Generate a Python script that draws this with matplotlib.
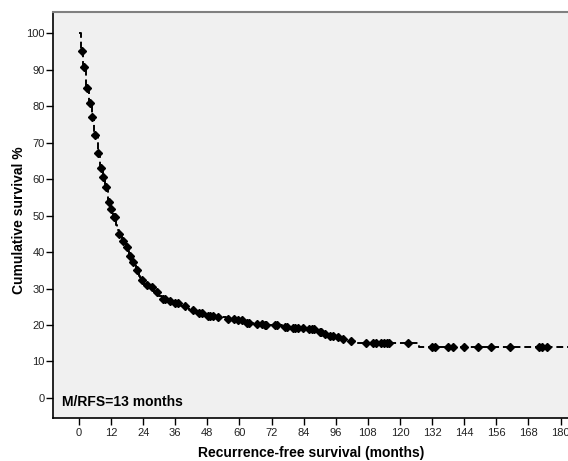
import matplotlib.pyplot as plt
import numpy as np

plt.rcParams['font.family'] = ['Liberation Sans', 'DejaVu Sans']

# Kaplan-Meier steps: drop times (months) and survival (%) after each drop
event_t = [0.8, 1.7, 2.7, 3.8, 4.8, 5.8, 7.0, 7.9, 8.9, 9.9, 10.9, 11.8, 12.9,
           13.8, 14.3, 14.9, 16.0, 17.5, 18.8, 20.0, 21.5, 22.3, 23.0, 24.5,
           26.0, 28.0, 29.5, 31.0, 33.0, 35.0, 38.0, 41.0, 44.0, 47.0, 51.0,
           55.0, 59.0, 62.0, 65.0, 69.0, 76.0, 79.0, 86.0, 89.0, 91.0, 93.0,
           96.0, 98.0, 100.0, 104.0, 127.0]
event_s = [95.0, 90.6, 85.1, 80.8, 76.9, 72.2, 67.2, 63.1, 60.6, 57.9, 53.8,
           51.8, 49.5, 47.5, 46.0, 45.0, 43.1, 41.3, 39.0, 37.2, 35.0, 33.5,
           32.2, 31.0, 30.4, 29.0, 28.0, 27.2, 26.6, 26.0, 25.1, 24.1, 23.2,
           22.5, 22.1, 21.6, 21.3, 20.6, 20.4, 20.0, 19.5, 19.2, 18.8, 18.0,
           17.5, 17.1, 16.6, 16.2, 15.5, 15.0, 14.0]

# censored observations (months)
cens_t = [1.0, 1.9, 2.9, 4.1, 5.0, 6.0, 7.2, 8.1, 9.1, 10.1, 11.1, 12.0, 13.1,
          13.5, 15.1, 16.3, 17.8, 19.1, 20.3, 21.8, 23.4, 25.3, 27.2, 29.0,
          31.5, 32.0, 34.0, 36.0, 37.0, 39.5, 42.5, 45.0, 46.0, 48.3, 49.0,
          50.0, 52.0, 55.7, 58.0, 59.4, 61.0, 62.7, 63.5, 66.4, 68.5, 69.5,
          70.0, 73.3, 74.0, 77.0, 77.7, 80.0, 80.7, 82.0, 83.9, 86.0, 87.0,
          88.0, 90.0, 90.5, 92.0, 93.8, 95.0, 96.9, 98.8, 101.7, 107.2, 110.0,
          111.0, 113.0, 114.0, 115.0, 116.0, 123.0, 132.0, 133.0, 138.0,
          140.0, 144.0, 149.0, 154.0, 161.0, 172.0, 173.0, 175.0]
end_t = 185.0

t_line = np.concatenate([[0], event_t, [end_t]])
s_line = np.concatenate([[100], event_s, [event_s[-1]]])
idx = np.searchsorted(t_line, cens_t, side='right') - 1
cens_s = s_line[idx]

W, H = 568, 461
fig = plt.figure(figsize=(W / 100, H / 100), dpi=100)
ax = fig.add_axes([53 / W, 1 - 418 / H, 1 - 53 / W, (418 - 12) / H])
ax.set_facecolor('#f0f0f0')

ax.step(t_line, s_line, where='post', color='black', linestyle='--',
        linewidth=1.4, dashes=(3.5, 2))
ax.plot(cens_t, cens_s, 'D', color='black', markersize=4.0, linestyle='none')

ax.set_xlim(-9.7, 182.8)
ax.set_ylim(-5.5, 105.8)
ax.set_xticks(np.arange(0, 181, 12))
ax.set_yticks(np.arange(0, 101, 10))
ax.tick_params(axis='both', labelsize=8, length=5, width=1, color='black',
               labelcolor='#222222')
ax.tick_params(axis='y', pad=1)
ax.tick_params(axis='x', pad=2)

for side in ['left', 'bottom']:
    ax.spines[side].set_color('black')
    ax.spines[side].set_linewidth(1.2)
ax.spines['top'].set_color('#808080')
ax.spines['top'].set_linewidth(1.5)
ax.spines['right'].set_visible(False)

fig.text(311.5 / W, 1 - 453 / H, 'Recurrence-free survival (months)',
         fontsize=10, fontweight='bold', ha='center', va='center')
fig.text(19 / W, 1 - 220 / H, 'Cumulative survival %', fontsize=10,
         fontweight='bold', ha='center', va='center', rotation=90)
ax.text(0.018, 0.04, 'M/RFS=13 months', transform=ax.transAxes,
        fontsize=10, fontweight='bold', ha='left', va='center')

fig.savefig('out.png', dpi=100)
